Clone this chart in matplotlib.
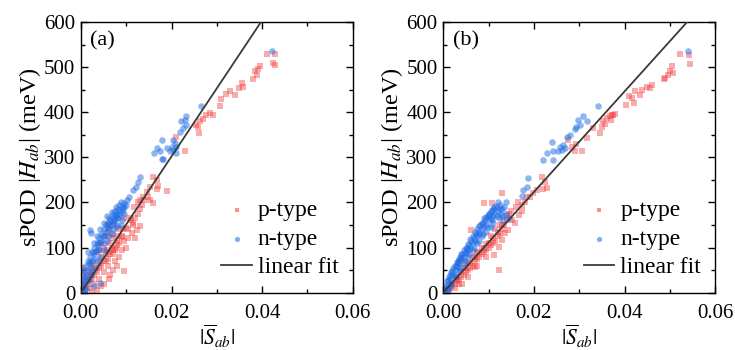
import matplotlib
matplotlib.use("Agg")
import matplotlib.pyplot as plt
import numpy as np

plt.rcParams['font.family'] = ['Liberation Serif', 'DejaVu Serif']
plt.rcParams['mathtext.fontset'] = 'stix'

# ---------------- data ----------------
# panel (a): p-type (x=|S_ab|, y=|H_ab| meV)
a_p = [
    (0.0424, 509), (0.0428, 505), (0.0428, 529), (0.0410, 529), (0.0396, 503), (0.0391, 496),
    (0.0384, 491), (0.0379, 474), (0.0388, 483), (0.0356, 465), (0.0349, 454), (0.0340, 439),
    (0.0330, 448), (0.0358, 457), (0.0321, 441), (0.0310, 429), (0.0307, 414), (0.0277, 394),
    (0.0285, 398), (0.0263, 380), (0.0269, 384), (0.0259, 368), (0.0261, 354), (0.0255, 372),
    (0.0292, 394), (0.0229, 313), (0.0211, 346), (0.0160, 257), (0.0167, 250), (0.0152, 235),
    (0.0145, 224), (0.0137, 213), (0.0130, 206), (0.0148, 213), (0.0152, 205), (0.0160, 198),
    (0.0189, 226), (0.0167, 229), (0.0171, 236), (0.0108, 165), (0.0115, 154), (0.0123, 139),
    (0.0112, 132), (0.0099, 143), (0.0130, 147), (0.0119, 120), (0.0091, 124), (0.0095, 48),
    (0.002, 10), (0.003, 20), (0.004, 30), (0.005, 45), (0.006, 60), (0.006, 75), (0.007, 85),
    (0.007, 95), (0.008, 105), (0.008, 115), (0.009, 125), (0.005, 70), (0.004, 55), (0.003, 40),
    (0.002, 28), (0.001, 15), (0.001, 5), (0.0015, 35), (0.002, 45), (0.0035, 90), (0.005, 100),
    (0.0055, 125), (0.006, 135), (0.006, 150), (0.007, 150), (0.0065, 110), (0.0075, 70),
    (0.0085, 80), (0.0045, 15), (0.0035, 5), (0.0025, 2), (0.0065, 40), (0.008, 60), (0.010, 100),
    (0.0105, 120), (0.011, 160), (0.0095, 165), (0.004, 95), (0.003, 60), (0.0005, 20),
    (0.0005, 40), (0.0008, 55), (0.0045, 110), (0.0055, 85), (0.0068, 120), (0.0072, 130),
    (0.0085, 140), (0.009, 95), (0.0062, 30), (0.0078, 100), (0.0118, 190), (0.0125, 200),
    (0.0015, 20), (0.0025, 30), (0.0035, 45), (0.0045, 60), (0.0055, 70), (0.0065, 85),
    (0.0075, 95), (0.0085, 110), (0.0095, 115), (0.0105, 140), (0.0115, 150), (0.012, 165),
    (0.0125, 175), (0.013, 185), (0.0135, 195), (0.014, 205), (0.0025, 60), (0.0045, 80),
    (0.0058, 95), (0.0068, 100), (0.0082, 125), (0.0092, 140), (0.0052, 20), (0.0072, 50),
    (0.0005, 5), (0.0012, 25), (0.0022, 38), (0.0032, 50), (0.0042, 65), (0.0062, 90),
]
# panel (a): n-type
a_n = [
    (0.0421, 535), (0.0266, 413), (0.0233, 391), (0.0229, 383), (0.0222, 380), (0.0226, 365),
    (0.0233, 371), (0.0218, 357), (0.0204, 339), (0.0207, 331), (0.0200, 324), (0.0196, 313),
    (0.0204, 317), (0.0211, 324), (0.0189, 320), (0.0211, 309), (0.0178, 339), (0.0167, 320),
    (0.0161, 309), (0.0182, 296), (0.0178, 296), (0.0174, 314), (0.0130, 257), (0.0121, 235),
    (0.0125, 246), (0.0115, 228), (0.0101, 206), (0.0106, 213), (0.0096, 198),
    (0.009, 190), (0.0085, 180), (0.008, 175), (0.0075, 170), (0.007, 165), (0.0065, 160),
    (0.006, 155), (0.0055, 150), (0.005, 140), (0.0045, 130), (0.004, 120), (0.0035, 110),
    (0.003, 100), (0.0025, 90), (0.002, 80), (0.0015, 70), (0.001, 60), (0.0005, 50),
    (0.0003, 30), (0.0008, 20), (0.0012, 40), (0.002, 55), (0.003, 75), (0.004, 95),
    (0.005, 110), (0.006, 125), (0.007, 140), (0.008, 150), (0.009, 160), (0.0095, 175),
    (0.0088, 200), (0.0078, 190), (0.0068, 178), (0.0058, 170), (0.0062, 140), (0.0072, 155),
    (0.0082, 165), (0.0092, 185), (0.0048, 125), (0.0038, 105), (0.0028, 85), (0.0018, 65),
    (0.0008, 45), (0.0004, 10), (0.001, 5), (0.0015, 25), (0.0025, 45), (0.0035, 70),
    (0.0020, 139), (0.0023, 132), (0.0042, 21), (0.0030, 15), (0.0075, 180), (0.0085, 195),
    (0.0005, 25), (0.001, 35), (0.0015, 50), (0.002, 65), (0.0025, 70), (0.003, 90),
    (0.0035, 95), (0.004, 110), (0.0045, 115), (0.005, 125), (0.0055, 135), (0.006, 145),
    (0.0065, 150), (0.007, 158), (0.0075, 160), (0.008, 168), (0.0085, 172), (0.009, 178),
    (0.0095, 190), (0.010, 195), (0.0002, 15), (0.0006, 0), (0.0012, 10), (0.0018, 30),
    (0.0022, 40), (0.0032, 55), (0.0042, 80), (0.0052, 95), (0.0058, 115), (0.0068, 130),
    (0.0078, 145), (0.0088, 150), (0.0062, 165), (0.0072, 175), (0.0082, 185), (0.0052, 155),
    (0.0042, 140), (0.0036, 125), (0.0028, 110), (0.0016, 90),
]
# panel (b): p-type
b_p = [
    (0.0545, 508), (0.0543, 528), (0.0523, 530), (0.0504, 502), (0.0501, 491), (0.0507, 487),
    (0.0490, 476), (0.0487, 473), (0.0497, 483), (0.0460, 461), (0.0456, 454), (0.0449, 457),
    (0.0438, 450), (0.0434, 439), (0.0423, 446), (0.0416, 432), (0.0409, 435), (0.0403, 417),
    (0.0420, 420), (0.0375, 394), (0.0368, 391), (0.0361, 387), (0.0353, 380), (0.0370, 382),
    (0.0350, 368), (0.0357, 373), (0.0346, 354), (0.0372, 394), (0.0379, 397), (0.0331, 365),
    (0.0317, 343), (0.0306, 313), (0.0291, 313), (0.0284, 324), (0.0276, 339), (0.0293, 330),
    (0.0225, 246), (0.0217, 257), (0.0228, 231), (0.0221, 229), (0.0206, 228), (0.0199, 220),
    (0.0191, 213), (0.0184, 213), (0.0173, 194), (0.0180, 200),
    (0.0145, 175), (0.014, 160), (0.0135, 150), (0.013, 140), (0.0125, 130), (0.012, 125),
    (0.0115, 115), (0.011, 110), (0.0105, 105), (0.010, 100), (0.0095, 95), (0.009, 90),
    (0.0085, 85), (0.008, 80), (0.0075, 75), (0.007, 70), (0.0065, 60), (0.006, 55),
    (0.0055, 50), (0.005, 45), (0.0045, 40), (0.004, 35), (0.0035, 30), (0.003, 25),
    (0.0025, 20), (0.002, 15), (0.0015, 10), (0.001, 5), (0.0089, 198), (0.0108, 198),
    (0.0062, 139), (0.0122, 50), (0.0111, 83), (0.0130, 220), (0.0152, 161), (0.0144, 139),
    (0.0137, 132), (0.0130, 117), (0.0122, 102), (0.0167, 172), (0.0174, 180), (0.0159, 154),
    (0.0041, 76), (0.0034, 65), (0.0071, 57), (0.0030, 28), (0.0041, 20), (0.0020, 20),
    (0.0005, 3), (0.0012, 8), (0.002, 22), (0.003, 35), (0.004, 45), (0.005, 55), (0.006, 65),
    (0.007, 80), (0.008, 90), (0.009, 100), (0.010, 110), (0.011, 120), (0.012, 135),
    (0.013, 150), (0.014, 170), (0.015, 180), (0.016, 190), (0.0165, 200), (0.0045, 55),
    (0.0055, 65), (0.0065, 78), (0.0075, 88), (0.0085, 98), (0.0095, 108), (0.0105, 125),
    (0.0115, 140), (0.0125, 150), (0.0035, 20), (0.0055, 35), (0.0075, 60), (0.0095, 80),
    (0.0025, 10),
]
# panel (b): n-type
b_n = [
    (0.0539, 535), (0.0342, 414), (0.0309, 391), (0.0298, 383), (0.0317, 380), (0.0302, 372),
    (0.0291, 363), (0.0293, 367), (0.0280, 350), (0.0273, 346), (0.0265, 328), (0.0258, 324),
    (0.0261, 317), (0.0269, 320), (0.0254, 313), (0.0239, 335), (0.0243, 294), (0.0228, 309),
    (0.0221, 294), (0.0243, 313), (0.0188, 254), (0.0184, 235), (0.0177, 228), (0.0173, 214),
    (0.0125, 195), (0.013, 185), (0.0128, 175), (0.012, 180), (0.0115, 175), (0.011, 170),
    (0.0105, 165), (0.010, 160), (0.0095, 150), (0.009, 145), (0.0085, 140), (0.008, 130),
    (0.0075, 125), (0.007, 115), (0.0065, 110), (0.006, 100), (0.0055, 95), (0.005, 90),
    (0.0045, 80), (0.004, 75), (0.0035, 65), (0.003, 60), (0.0025, 50), (0.002, 40),
    (0.0015, 30), (0.001, 20), (0.0005, 10), (0.0008, 25), (0.0012, 35), (0.0018, 45),
    (0.0022, 55), (0.0028, 62), (0.0032, 70), (0.0038, 80), (0.0042, 85), (0.0048, 88),
    (0.0052, 100), (0.0058, 105), (0.0062, 115), (0.0068, 120), (0.0072, 130), (0.0078, 135),
    (0.0082, 150), (0.0088, 155), (0.0092, 160), (0.0098, 170), (0.0102, 175), (0.0108, 180),
    (0.0112, 185), (0.0118, 190), (0.0122, 165), (0.0132, 160), (0.0138, 200), (0.011, 155),
    (0.0105, 145), (0.0095, 135), (0.0085, 125), (0.0075, 110), (0.0065, 95), (0.0055, 80),
    (0.0045, 65), (0.0035, 50), (0.0025, 35), (0.0015, 15), (0.001, 5), (0.0003, 3),
    (0.0138, 175), (0.0145, 165),
    (0.0005, 15), (0.001, 28), (0.0015, 38), (0.002, 48), (0.0025, 58), (0.003, 68),
    (0.0035, 75), (0.004, 85), (0.0045, 95), (0.005, 100), (0.0055, 108), (0.006, 118),
    (0.0065, 125), (0.007, 135), (0.0075, 140), (0.008, 148), (0.0085, 155), (0.009, 165),
    (0.0095, 168), (0.010, 175), (0.0105, 180), (0.011, 188), (0.0115, 192), (0.012, 200),
    (0.0125, 185), (0.013, 170), (0.0135, 190), (0.0002, 5), (0.0008, 8), (0.0018, 20),
    (0.0028, 40), (0.0038, 55), (0.0048, 70), (0.0058, 85), (0.0068, 100), (0.0078, 115),
    (0.0088, 130), (0.0098, 145), (0.0108, 160), (0.0118, 170),
]
# linear-fit slopes (meV per unit |S_ab|)
fit_slope = {'a': 15100.0, 'b': 11150.0}
panel_labels = ['(a)', '(b)']
series_labels = ['p-type', 'n-type', 'linear fit']
x_ticks = [0.00, 0.02, 0.04, 0.06]
y_ticks = [0, 100, 200, 300, 400, 500, 600]

# ---------------- plotting ----------------
fig = plt.figure(figsize=(7.35, 3.5), dpi=100)
axes = [fig.add_axes([0.110, 0.164, 0.370, 0.773]),
        fig.add_axes([0.603, 0.164, 0.370, 0.773])]

red = '#f03a3a'
blue = '#1e6be6'
panels = [(a_p, a_n, fit_slope['a']), (b_p, b_n, fit_slope['b'])]

for ax, (pp, nn, k), lab in zip(axes, panels, panel_labels):
    px, py = zip(*pp)
    nx, ny = zip(*nn)
    ax.scatter(px, py, marker='s', s=16, color=red, alpha=0.42, linewidths=0, label=series_labels[0], zorder=2)
    ax.scatter(nx, ny, marker='o', s=22, color=blue, alpha=0.5, linewidths=0, label=series_labels[1], zorder=2)
    xs = np.array([0.0, 0.06])
    ax.plot(xs, k * xs, color='#3a3a3a', lw=1.3, label=series_labels[2], zorder=3)
    ax.set_xlim(0, 0.06)
    ax.set_ylim(0, 600)
    ax.set_xticks(x_ticks)
    ax.set_xticklabels([f'{t:.2f}' for t in x_ticks])
    ax.set_yticks(y_ticks)
    ax.set_xticks([0.01, 0.03, 0.05], minor=True)
    ax.set_yticks([50, 150, 250, 350, 450, 550], minor=True)
    ax.tick_params(which='both', direction='in', top=True, right=True, labelsize=15, width=1.0)
    ax.tick_params(which='major', length=5)
    ax.tick_params(axis='x', which='major', pad=8)
    ax.tick_params(axis='y', which='major', pad=4)
    ax.tick_params(which='minor', length=3)
    for s in ax.spines.values():
        s.set_linewidth(1.0)
    ax.set_ylabel(r'sPOD |$H_{ab}$| (meV)', fontsize=17.5, labelpad=1)
    ax.set_xlabel(r'$|\overline{S}_{ab}|$', fontsize=15.5, labelpad=0)
    ax.text(0.035, 0.965, lab, transform=ax.transAxes, fontsize=16, va='top', ha='left')
    leg = ax.legend(loc='lower right', frameon=False, fontsize=17, handlelength=1.3,
                    handletextpad=0.25, labelspacing=0.3, borderaxespad=0.2,
                    markerscale=0.8)
    for h in leg.legend_handles[:2]:
        h.set_alpha(0.55)

fig.savefig('out.png', dpi=100)
